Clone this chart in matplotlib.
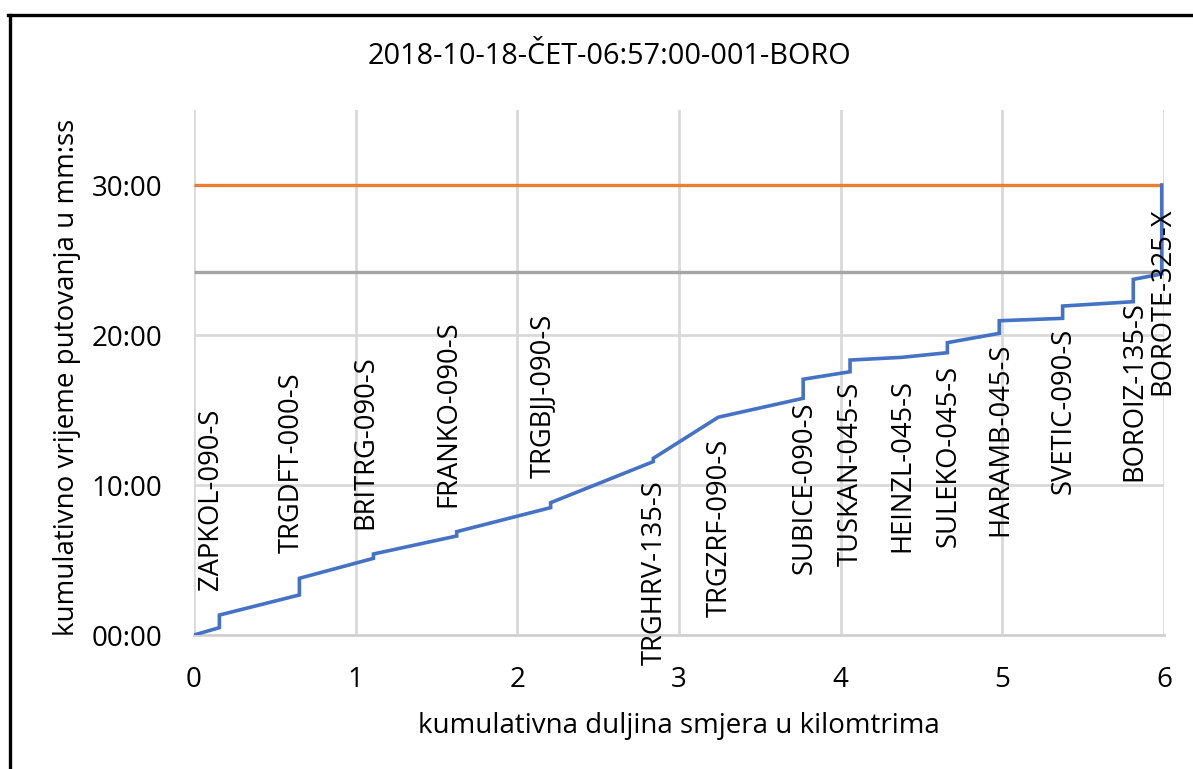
import matplotlib
matplotlib.use("Agg")
import matplotlib.pyplot as plt
from matplotlib.ticker import FixedLocator, FuncFormatter
from matplotlib.lines import Line2D

plt.rcParams['font.family'] = ['Open Sans', 'DejaVu Sans']

title = "2018-10-18-ČET-06:57:00-001-BORO"
xlabel = "kumulativna duljina smjera u kilomtrima"
ylabel = "kumulativno vrijeme putovanja u mm:ss"

stations = ["ZAPKOL-090-S", "TRGDFT-000-S", "BRITRG-090-S", "FRANKO-090-S",
            "TRGBJJ-090-S", "TRGHRV-135-S", "TRGZRF-090-S", "SUBICE-090-S",
            "TUSKAN-045-S", "HEINZL-045-S", "SULEKO-045-S", "HARAMB-045-S",
            "SVETIC-090-S", "BOROIZ-135-S", "BOROTE-325-X"]
# cumulative distance (km)
station_km = [0.157, 0.652, 1.110, 1.625, 2.206, 2.841, 3.243, 3.768,
              4.058, 4.378, 4.660, 4.981, 5.373, 5.810, 5.986]
# cumulative time at arrival / departure (minutes)
arrive_min = [0.49, 2.67, 5.11, 6.60, 8.49, 11.56, 14.52, 15.78,
              17.55, 18.51, 18.82, 20.11, 21.11, 22.22, 24.07]
depart_min = [1.33, 3.78, 5.40, 6.89, 8.82, 11.78, 14.52, 17.05,
              18.33, 18.51, 19.49, 20.95, 21.93, 23.71, 30.00]
label_above = [True, True, True, True, True, False, False, False,
               False, False, False, False, False, False, False]

limit_min = 30.0      # orange line
planned_min = 24.2    # gray line

xs = [0.0]
ys = [0.0]
for k, a, d in zip(station_km, arrive_min, depart_min):
    xs += [k, k]
    ys += [a, d]

W, H = 1193, 769
fig = plt.figure(figsize=(W / 100, H / 100), dpi=100)
ax = fig.add_axes([194 / W, 1 - 635 / H, (1164 - 194) / W, (635 - 110) / H])

total_km = station_km[-1]
ax.plot([0, total_km], [limit_min, limit_min], color="#ED7D31", lw=2.4,
        solid_capstyle="butt", zorder=3)
ax.plot([0, total_km], [planned_min, planned_min], color="#A5A5A5", lw=2.4,
        solid_capstyle="butt", zorder=3)
ax.plot(xs, ys, color="#4472C4", lw=2.6, zorder=4, solid_joinstyle="miter")

px = 0.72  # points per pixel
for name, k, d, above in zip(stations, station_km, depart_min, label_above):
    if above:
        ax.annotate(name, (k, d), xytext=(-8 * px, 25 * px), textcoords="offset points",
                    rotation=90, ha="center", va="bottom", fontsize=19.7,
                    color="black", annotation_clip=False, zorder=5)
    else:
        ax.annotate(name, (k, d), xytext=(1 * px, -22 * px), textcoords="offset points",
                    rotation=90, ha="center", va="top", fontsize=19.7,
                    color="black", annotation_clip=False, zorder=5)

ax.set_xlim(0, 6)
ax.set_ylim(0, 35)
ax.xaxis.set_major_locator(FixedLocator([0, 1, 2, 3, 4, 5, 6]))
ax.yaxis.set_major_locator(FixedLocator([0, 10, 20, 30]))
ax.yaxis.set_major_formatter(FuncFormatter(lambda v, p: "%02d:00" % int(round(v))))
ax.grid(True, color="#D9D9D9", lw=2.0, zorder=0)
for s in ["top", "right", "left"]:
    ax.spines[s].set_visible(False)
ax.spines["bottom"].set_color("#D0D0D0")
ax.spines["bottom"].set_linewidth(2.0)
ax.tick_params(length=0, labelsize=20)
ax.tick_params(axis="y", pad=23)
ax.tick_params(axis="x", pad=22)
ax.set_axisbelow(True)

ax.set_xlabel(xlabel, fontsize=20, labelpad=13)
ax.set_ylabel(ylabel, fontsize=20)
ax.yaxis.set_label_coords(-0.116, 0.49)
fig.text(609 / W, 1 - 57 / H, title, ha="center", va="center", fontsize=20.8)

# outer black frame (cut at right and bottom)
fig.add_artist(Line2D([9.5 / W, 9.5 / W], [0, 1 - 14.5 / H], color="black", lw=2.4,
                      transform=fig.transFigure))
fig.add_artist(Line2D([8.3 / W, 1], [1 - 14.5 / H, 1 - 14.5 / H], color="black", lw=2.4,
                      transform=fig.transFigure))

fig.savefig("out.png", dpi=100)
